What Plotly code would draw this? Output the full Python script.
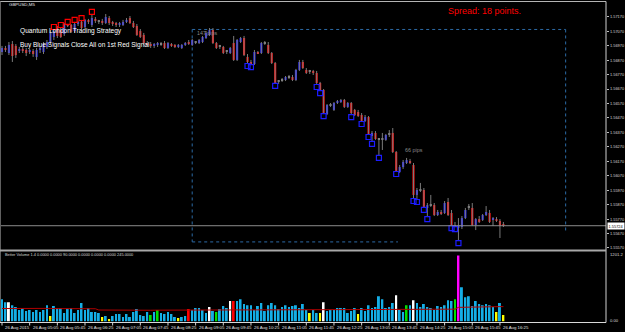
import plotly.graph_objects as go

W, H = 625, 332
FONT = "Liberation Sans, Arial, sans-serif"

# ---------------- data (GBPUSD M5, 26 Aug 2015, 04:25 ... 16:30) ----------------
opens = [
    1.56926, 1.56954, 1.56919, 1.56981, 1.56968, 1.56933, 1.56947, 1.56940, 1.56926, 1.56933,
    1.56892, 1.56940, 1.56926, 1.56961, 1.56995, 1.57030, 1.57092, 1.57078, 1.57051, 1.57113,
    1.57113, 1.57071, 1.57120, 1.57134, 1.57099, 1.57141, 1.57113, 1.57155, 1.57134, 1.57141,
    1.57127, 1.57161, 1.57127, 1.57120, 1.57113, 1.57113, 1.57134, 1.57161, 1.57127, 1.57106,
    1.57071, 1.57044, 1.56988, 1.56981, 1.56968, 1.56975, 1.56981, 1.56988, 1.56954, 1.56975,
    1.56968, 1.56961, 1.56954, 1.56975, 1.56995, 1.56975, 1.56995, 1.56988, 1.56995, 1.57023,
    1.57044, 1.57078, 1.56988, 1.56961, 1.56961, 1.56926, 1.56919, 1.56988, 1.56871, 1.56995,
    1.57023, 1.56892, 1.56857, 1.56843, 1.56926, 1.56919, 1.56988, 1.56975, 1.56919, 1.56850,
    1.56719, 1.56732, 1.56732, 1.56753, 1.56753, 1.56732, 1.56802, 1.56857, 1.56802, 1.56788,
    1.56788, 1.56781, 1.56712, 1.56663, 1.56497, 1.56559, 1.56525, 1.56573, 1.56580, 1.56594,
    1.56546, 1.56573, 1.56525, 1.56511, 1.56490, 1.56449, 1.56476, 1.56345, 1.56366, 1.56318,
    1.56318, 1.56318, 1.56352, 1.56366, 1.56234, 1.56096, 1.56130, 1.56158, 1.56172, 1.56144,
    1.55937, 1.55971, 1.55971, 1.55847, 1.55867, 1.55867, 1.55798, 1.55819, 1.55812, 1.55888,
    1.55812, 1.55722, 1.55708, 1.55715, 1.55777, 1.55847, 1.55847, 1.55729, 1.55770, 1.55764,
    1.55798, 1.55812, 1.55764, 1.55770, 1.55757, 1.55728,
]
highs = [
    1.56968, 1.56968, 1.56995, 1.57002, 1.56981, 1.56961, 1.56961, 1.56954, 1.56947, 1.56947,
    1.56954, 1.56968, 1.56995, 1.57009, 1.57078, 1.57085, 1.57106, 1.57099, 1.57127, 1.57120,
    1.57120, 1.57134, 1.57141, 1.57148, 1.57155, 1.57155, 1.57189, 1.57168, 1.57148, 1.57155,
    1.57189, 1.57175, 1.57141, 1.57134, 1.57134, 1.57148, 1.57161, 1.57175, 1.57141, 1.57120,
    1.57085, 1.57058, 1.57002, 1.56995, 1.56988, 1.56995, 1.56995, 1.57002, 1.56995, 1.56988,
    1.56981, 1.56981, 1.56981, 1.56995, 1.57009, 1.57016, 1.57002, 1.57016, 1.57037, 1.57071,
    1.57092, 1.57092, 1.56995, 1.56975, 1.56968, 1.56940, 1.56961, 1.57037, 1.57016, 1.57030,
    1.57037, 1.56912, 1.56871, 1.56940, 1.56933, 1.56995, 1.57002, 1.56995, 1.56926, 1.56857,
    1.56732, 1.56746, 1.56760, 1.56767, 1.56767, 1.56809, 1.56871, 1.56871, 1.56815, 1.56802,
    1.56802, 1.56795, 1.56719, 1.56670, 1.56566, 1.56573, 1.56580, 1.56594, 1.56601, 1.56601,
    1.56580, 1.56580, 1.56532, 1.56525, 1.56504, 1.56490, 1.56483, 1.56379, 1.56379, 1.56331,
    1.56366, 1.56359, 1.56386, 1.56400, 1.56241, 1.56144, 1.56179, 1.56193, 1.56186, 1.56158,
    1.55985, 1.56020, 1.55985, 1.55881, 1.55937, 1.55881, 1.55833, 1.55833, 1.55895, 1.55916,
    1.55833, 1.55750, 1.55777, 1.55791, 1.55847, 1.55874, 1.55881, 1.55777, 1.55791, 1.55805,
    1.55860, 1.55833, 1.55784, 1.55784, 1.55770, 1.55750,
]
lows = [
    1.56905, 1.56926, 1.56905, 1.56857, 1.56885, 1.56919, 1.56919, 1.56898, 1.56912, 1.56892,
    1.56871, 1.56919, 1.56912, 1.56947, 1.56981, 1.57009, 1.57023, 1.57023, 1.57037, 1.57099,
    1.57058, 1.57058, 1.57106, 1.57085, 1.57092, 1.57120, 1.57099, 1.57127, 1.57120, 1.57113,
    1.57120, 1.57113, 1.57106, 1.57099, 1.57099, 1.57106, 1.57127, 1.57120, 1.57092, 1.57037,
    1.57023, 1.56975, 1.56968, 1.56954, 1.56954, 1.56961, 1.56968, 1.56947, 1.56947, 1.56961,
    1.56954, 1.56954, 1.56947, 1.56968, 1.56975, 1.56968, 1.56981, 1.56981, 1.56988, 1.57016,
    1.57037, 1.56981, 1.56947, 1.56947, 1.56912, 1.56912, 1.56912, 1.56864, 1.56864, 1.56988,
    1.56898, 1.56843, 1.56836, 1.56836, 1.56912, 1.56912, 1.56975, 1.56912, 1.56843, 1.56705,
    1.56705, 1.56719, 1.56725, 1.56739, 1.56725, 1.56725, 1.56795, 1.56809, 1.56774, 1.56774,
    1.56767, 1.56698, 1.56656, 1.56497, 1.56490, 1.56546, 1.56518, 1.56566, 1.56573, 1.56539,
    1.56539, 1.56490, 1.56483, 1.56476, 1.56442, 1.56442, 1.56352, 1.56304, 1.56318, 1.56207,
    1.56248, 1.56311, 1.56338, 1.56227, 1.56096, 1.56089, 1.56117, 1.56151, 1.56151, 1.55909,
    1.55902, 1.55957, 1.55847, 1.55784, 1.55854, 1.55791, 1.55791, 1.55798, 1.55805, 1.55791,
    1.55722, 1.55715, 1.55618, 1.55701, 1.55770, 1.55833, 1.55722, 1.55694, 1.55743, 1.55757,
    1.55791, 1.55743, 1.55722, 1.55750, 1.55639, 1.55715,
]
closes = [
    1.56954, 1.56940, 1.56975, 1.56898, 1.56905, 1.56947, 1.56933, 1.56919, 1.56933, 1.56912,
    1.56940, 1.56954, 1.56981, 1.56995, 1.57058, 1.57071, 1.57037, 1.57030, 1.57120, 1.57106,
    1.57065, 1.57120, 1.57134, 1.57092, 1.57148, 1.57134, 1.57161, 1.57141, 1.57134, 1.57127,
    1.57168, 1.57127, 1.57120, 1.57113, 1.57127, 1.57134, 1.57148, 1.57127, 1.57099, 1.57044,
    1.57030, 1.56988, 1.56981, 1.56968, 1.56981, 1.56988, 1.56981, 1.56954, 1.56988, 1.56968,
    1.56961, 1.56975, 1.56975, 1.56988, 1.56981, 1.57009, 1.56995, 1.57009, 1.57030, 1.57058,
    1.57078, 1.56988, 1.56954, 1.56961, 1.56919, 1.56926, 1.56954, 1.56871, 1.57009, 1.57023,
    1.56905, 1.56857, 1.56843, 1.56926, 1.56919, 1.56988, 1.56988, 1.56919, 1.56850, 1.56712,
    1.56719, 1.56732, 1.56753, 1.56753, 1.56732, 1.56802, 1.56857, 1.56815, 1.56781, 1.56788,
    1.56781, 1.56712, 1.56663, 1.56504, 1.56559, 1.56559, 1.56573, 1.56587, 1.56594, 1.56546,
    1.56573, 1.56504, 1.56490, 1.56483, 1.56449, 1.56476, 1.56359, 1.56366, 1.56324, 1.56318,
    1.56318, 1.56352, 1.56352, 1.56234, 1.56103, 1.56130, 1.56165, 1.56179, 1.56158, 1.55937,
    1.55971, 1.55971, 1.55854, 1.55867, 1.55867, 1.55798, 1.55819, 1.55805, 1.55881, 1.55798,
    1.55729, 1.55722, 1.55729, 1.55777, 1.55833, 1.55847, 1.55729, 1.55770, 1.55750, 1.55798,
    1.55819, 1.55750, 1.55777, 1.55757, 1.55722, 1.55724,
]
volumes = [
    389, 337, 337, 285, 251, 199, 234, 182, 199, 164,
    199, 164, 199, 285, 95, 268, 234, 234, 147, 216,
    234, 147, 199, 320, 199, 234, 164, 164, 147, 78,
    95, 43, 95, 130, 130, 78, 130, 78, 164, 216,
    112, 95, 164, 112, 164, 199, 147, 130, 164, 130,
    78, 61, 78, 95, 216, 199, 234, 234, 199,
    147, 251, 182, 164, 216, 268, 234, 355, 355, 355,
    389, 303, 285, 285, 199, 268, 320, 182, 285, 320,
    285, 216, 251, 285, 251, 268, 285, 234, 303, 199,
    147, 199, 147, 147, 337, 182, 199, 199, 234, 234,
    234, 147, 182, 234, 130, 234, 182, 285, 234, 251,
    441, 389, 234, 251, 320, 458, 199, 164, 285,
    285, 372, 320, 251, 303, 251, 234, 199, 268, 251,
    285, 372, 355, 389, 1150, 597, 424, 441, 268, 355,
    303, 285, 303, 285, 251, 164, 320, 112,
]
# Better Volume bar classes (all other bars are neutral)
volume_class = {
    2: "climax_down", 14: "low", 29: "low", 31: "low", 43: "churn", 45: "churn",
    51: "low", 54: "climax_up", 60: "climax_down", 62: "churn", 66: "climax_down",
    67: "climax_up", 89: "low", 92: "low", 93: "climax_down", 103: "low",
    114: "climax_down", 117: "churn", 119: "climax_down", 131: "churn",
    132: "climax_churn", 143: "low", 145: "low",
}
volume_avg = [
    226, 227, 228, 228, 229, 229, 228, 228, 227, 227, 228, 229, 229, 228,
    226, 226, 227, 227, 226, 226, 225, 225, 226, 226, 225, 224, 223, 222,
    200, 199, 198, 198, 197, 197, 196, 196, 196, 195, 195, 195, 196, 196,
    196, 196, 197, 197, 197, 196, 196, 196, 197, 197, 198, 198, 198, 199,
    199, 199, 199, 200, 200, 200, 200, 201, 201, 202, 202, 203, 203, 203, 204,
    204, 204, 204, 204, 203, 203, 203, 203, 202, 202, 202, 202, 202, 201, 201,
    201, 201, 200, 200, 200, 200, 201, 201, 201, 202, 202, 203, 203, 204, 204,
    205, 205, 206, 206, 207, 207, 207, 208, 208, 209, 209, 210, 210, 211, 211, 211,
    212, 212, 212, 212, 213, 213, 213, 213, 214, 214, 214, 214, 214, 215, 215,
    246, 248, 250, 252, 253, 254, 255, 256, 257, 257, 258, 258, 259, 259,
]
buy_signal_bars = [71, 72, 79, 91, 92, 93, 101, 104, 106, 107, 109, 114, 119, 120, 122, 123, 130, 131, 132]
buy_signal_prices = [1.56829, 1.56822, 1.56691, 1.56684, 1.56642, 1.56483, 1.56476, 1.56428, 1.56338, 1.56290,
                     1.56193, 1.56082, 1.55895, 1.55888, 1.55833, 1.55770, 1.55708, 1.55701, 1.55604]
sell_signal_bars = [15, 17, 19, 21, 23, 26]
sell_signal_prices = [1.57099, 1.57113, 1.57134, 1.57148, 1.57161, 1.57203]

time_label_bars = [0, 8, 16, 24, 32, 40, 48, 56, 64, 72, 80, 88, 96, 104, 112, 120, 128, 136, 144]
time_labels = ["26 Aug 2015", "26 Aug 05:05", "26 Aug 05:45", "26 Aug 06:25", "26 Aug 07:05",
               "26 Aug 07:45", "26 Aug 08:25", "26 Aug 09:05", "26 Aug 09:45", "26 Aug 10:25",
               "26 Aug 11:05", "26 Aug 11:45", "26 Aug 12:25", "26 Aug 13:05", "26 Aug 13:45",
               "26 Aug 14:25", "26 Aug 15:05", "26 Aug 15:45", "26 Aug 16:25"]
price_ticks = [1.57170, 1.57070, 1.56970, 1.56870, 1.56770, 1.56670, 1.56570, 1.56470, 1.56370,
               1.56270, 1.56170, 1.56070, 1.55970, 1.55870, 1.55770, 1.55670, 1.55570]
current_price = 1.55724
volume_max = 1201.2

# London session box: start bar, end bar, high, low (147 pips), low-line end bar, right-line bottom
session_start_bar, session_end_bar = 55, 163
session_high, session_low = 1.57082, 1.55612
session_low_end_bar, session_right_bottom = 114.5, 1.55674

# ---------------- geometry helpers ----------------
def py(px):
    return 1 - px / H

def px_x(px):
    return px / W

n = len(opens)
idx = list(range(n))
X_RANGE = [-0.578, 174.67]
MAIN_RANGE = [1.55556, 1.57272]

BULL, BEAR, DOJI, WICK = "#2a2aff", "#ff1010", "#8a8a8a", "#7a7a7a"
body_base, body_h, body_col = [], [], []
for o, c in zip(opens, closes):
    body_base.append(min(o, c))
    body_h.append(max(abs(c - o), 0.00007))
    body_col.append(BULL if c > o else (BEAR if c < o else DOJI))

wx, wy = [], []
for i, (h, l) in enumerate(zip(highs, lows)):
    wx += [i, i, None]
    wy += [l, h, None]

vcolors_map = {"neutral": "#14aee6", "climax_down": "#ffffff", "climax_up": "#ff0000",
               "low": "#ffff00", "churn": "#00e000", "climax_churn": "#ff00ff"}
vcol = [vcolors_map[volume_class.get(i, "neutral")] for i in idx]

fig = go.Figure()
fig.add_trace(go.Scatter(x=wx, y=wy, mode="lines", line=dict(color=WICK, width=1),
                         hoverinfo="skip", showlegend=False))
fig.add_trace(go.Bar(x=idx, y=body_h, base=body_base, width=0.62, marker_color=body_col,
                     marker_line_width=0, hoverinfo="skip", showlegend=False))
fig.add_trace(go.Scatter(x=buy_signal_bars, y=buy_signal_prices, mode="markers",
                         marker=dict(symbol="square-open", size=5, color="#1c1cff", line=dict(width=1.2)),
                         hoverinfo="skip", showlegend=False))
fig.add_trace(go.Scatter(x=sell_signal_bars, y=sell_signal_prices, mode="markers",
                         marker=dict(symbol="square-open", size=5, color="#ff0000", line=dict(width=1.2)),
                         hoverinfo="skip", showlegend=False))
fig.add_trace(go.Bar(x=idx, y=volumes, yaxis="y2", width=0.55, marker_color=vcol,
                     marker_line_width=0, hoverinfo="skip", showlegend=False))
fig.add_trace(go.Scatter(x=idx, y=volume_avg, yaxis="y2", mode="lines",
                         line=dict(color="#b00000", width=1), hoverinfo="skip", showlegend=False))

shapes = []
BOX = dict(color="#2c6aa6", width=1, dash="dot")
for (x0, x1, y0, y1) in [
    (session_start_bar, session_end_bar, session_high, session_high),
    (session_start_bar, session_start_bar, session_high, session_low),
    (session_start_bar, session_low_end_bar, session_low, session_low),
    (session_end_bar, session_end_bar, session_high, session_right_bottom),
]:
    shapes.append(dict(type="line", xref="x", yref="y", x0=x0, x1=x1, y0=y0, y1=y1,
                       line=BOX, layer="below"))
# current price line
shapes.append(dict(type="line", xref="paper", yref="y", x0=0, x1=px_x(606), y0=current_price,
                   y1=current_price, line=dict(color="#8c8c8c", width=1)))
# frames
FR = "#b4b4b4"
shapes += [
    dict(type="line", xref="paper", yref="paper", x0=0, x1=px_x(606), y0=py(1.5), y1=py(1.5), line=dict(color=FR, width=1)),
    dict(type="line", xref="paper", yref="paper", x0=px_x(0.5), x1=px_x(0.5), y0=py(1.5), y1=py(322.5), line=dict(color="#606060", width=1)),
    dict(type="line", xref="paper", yref="paper", x0=px_x(606), x1=px_x(606), y0=py(1.5), y1=py(322.5), line=dict(color="#d0d0d0", width=1)),
    dict(type="line", xref="paper", yref="paper", x0=0, x1=px_x(606), y0=py(250.5), y1=py(250.5), line=dict(color="#a8a8a8", width=2)),
    dict(type="line", xref="paper", yref="paper", x0=0, x1=px_x(606), y0=py(322.5), y1=py(322.5), line=dict(color="#d8d8d8", width=1)),
]
for b in time_label_bars:
    shapes.append(dict(type="line", xref="x", yref="paper", x0=b, x1=b, y0=py(322.5), y1=py(325.5),
                       line=dict(color="#d8d8d8", width=1)))

ann = []
def txt(x, y, s, size, color, xanchor="left", yref="paper", xref="paper", **kw):
    d = dict(x=x, y=y, xref=xref, yref=yref, text=s, showarrow=False, xanchor=xanchor,
             yanchor="middle", font=dict(family=FONT, size=size, color=color))
    d.update(kw)
    ann.append(d)

txt(px_x(7), py(4.5), "GBPUSD,M5", 4.4, "#e8e8e8")
txt(px_x(18), py(31.5), "Quantum London Trading Strategy", 6.6, "#ffffff")
txt(px_x(18), py(45), "Buy Blue Signals Close All on 1st Red Signal", 6.5, "#ffffff")
txt(px_x(446), py(11), "Spread: 18 points.", 9, "#ff0000")
txt(px_x(195), py(33), "147 pips", 5.3, "#8a8a8a")
txt(px_x(403), py(150), "66 pips", 5.4, "#8a8a8a")
txt(px_x(3), py(254.5), "Better Volume 1.4 0.0000 0.0000 90.0000 0.0000 0.0000 0.0000 245.0000", 3.9, "#d8d8d8")
txt(px_x(608), py(254.5), f"{volume_max:.1f}", 4.2, "#d8d8d8")
txt(px_x(608), py(320), "0.00", 4.2, "#d8d8d8")
# price scale labels (right of the tick marks)
for v in price_ticks:
    txt(px_x(608.5), v, f"{v:.5f}", 3.9, "#d8d8d8", yref="y", borderpad=0)
txt(px_x(607), current_price, f"{current_price:.5f}", 3.9, "#000000", yref="y",
    bgcolor="#ffffff", borderpad=0.6)
for b, s in zip(time_label_bars, time_labels):
    txt(b, py(327.5), s, 4.3, "#e0e0e0", xref="x", xshift=1)

fig.update_layout(
    width=W, height=H, margin=dict(l=0, r=0, t=0, b=0),
    paper_bgcolor="#000000", plot_bgcolor="#000000",
    barmode="overlay", showlegend=False, hovermode=False,
    font=dict(family=FONT, color="#d8d8d8"),
    xaxis=dict(domain=[0, px_x(606)], range=X_RANGE, showgrid=False, zeroline=False,
               showticklabels=False, showline=False, ticks="", automargin=False, fixedrange=True),
    yaxis=dict(domain=[py(250), py(2)], range=MAIN_RANGE, side="right", showgrid=False,
               zeroline=False, showline=False, tickvals=price_ticks, showticklabels=False,
               ticks="outside", ticklen=2, tickcolor="#bcbcbc", tickwidth=1,
               automargin=False, fixedrange=True),
    yaxis2=dict(domain=[py(321.5), py(252.5)], range=[0, volume_max], anchor="x", showgrid=False,
                zeroline=False, showline=False, showticklabels=False, ticks="",
                automargin=False, fixedrange=True),
    shapes=shapes, annotations=ann,
)

fig.write_html("out.html")
